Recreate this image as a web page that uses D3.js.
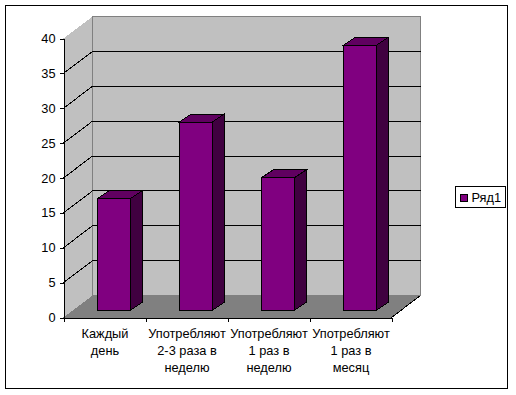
<!DOCTYPE html>
<html>
<head>
<meta charset="utf-8">
<script src="https://cdn.jsdelivr.net/npm/d3@7"></script>
<style>
  html, body { margin: 0; padding: 0; background: #fff; }
  svg { display: block; }
  text { font-family: "Liberation Sans", Arial, sans-serif; font-size: 12.8px; fill: #000; }
  rect, polygon, polyline, line, path { shape-rendering: crispEdges; }
</style>
</head>
<body>
<svg id="chart"></svg>
<script>
const categories = ['Каждый день', 'Употребляют 2-3 раза в неделю', 'Употребляют 1 раз в неделю', 'Употребляют 1 раз в месяц'];
const categoryLines = [['Каждый', 'день'], ['Употребляют', '2-3 раза в', 'неделю'], ['Употребляют', '1 раз в', 'неделю'], ['Употребляют', '1 раз в', 'месяц']];
const values = [16, 27, 19, 38];
const yTicks = [0, 5, 10, 15, 20, 25, 30, 35, 40];
const seriesName = 'Ряд1';

const svg = d3.select('#chart').attr('width', 516).attr('height', 395);

// outer chart frame
svg.append('rect').attr('x', 5.5).attr('y', 5.5).attr('width', 502).attr('height', 383)
  .attr('fill', '#fff').attr('stroke', '#000');

const x = d3.scaleBand().domain(categories).range([63.5, 391.5]);
const y = d3.scaleLinear().domain([0, 40]).range([317.5, 38.5]);

// depth of the 3d box, and how far back the bars stand in it
const depthX = 29, depthY = 22;
const barOffX = 9, barOffY = 7;
const barW = 33, barDX = 12, barDY = 8;

const poly = (pts, fill, stroke) => svg.append('polygon')
  .attr('points', pts.map(p => p.join(',')).join(' '))
  .attr('fill', fill).attr('stroke', stroke || 'none');

const x0 = x.range()[0], x1 = x.range()[1];
const y0 = y(0), yTop = y(40);

// walls + floor
poly([[x0, y0], [x0, yTop], [x0 + depthX, yTop - depthY], [x0 + depthX, y0 - depthY]], '#c0c0c0');
poly([[x0 + depthX, yTop - depthY], [x1 + depthX, yTop - depthY], [x1 + depthX, y0 - depthY], [x0 + depthX, y0 - depthY]], '#c0c0c0', '#808080');
poly([[x0, y0], [x0 + depthX, y0 - depthY], [x1 + depthX, y0 - depthY], [x1, y0]], '#808080');

// gridlines go up the side wall then across the back
svg.append('g').selectAll('polyline').data(yTicks.slice(1, -1)).enter().append('polyline')
  .attr('points', d => `${x0},${y(d)} ${x0 + depthX},${y(d) - depthY} ${x1 + depthX},${y(d) - depthY}`)
  .attr('fill', 'none').attr('stroke', '#000');

// black edge along the front of the floor, right side
svg.append('line').attr('x1', x1).attr('y1', y0).attr('x2', x1 + depthX).attr('y2', y0 - depthY)
  .attr('stroke', '#000');

// bars
categories.forEach((c, i) => {
  const left = x(c) + x.bandwidth() / 2 + barOffX - barW / 2;
  const right = left + barW;
  const bottom = y0 - barOffY;
  const top = y(values[i]) - barOffY;
  poly([[right, top], [right + barDX, top - barDY], [right + barDX, bottom - barDY], [right, bottom]], '#400040', '#000');
  poly([[left, top], [left + barDX, top - barDY], [right + barDX, top - barDY], [right, top]], '#600060', '#000');
  poly([[left, top], [right, top], [right, bottom], [left, bottom]], '#800080', '#000');
});

// axes
const yAxis = d3.axisLeft(y).tickValues(yTicks).tickSize(4).tickSizeOuter(0);
const yG = svg.append('g').attr('transform', `translate(${x0},0)`).call(yAxis);
yG.selectAll('.domain').attr('stroke', '#000');
yG.selectAll('text').attr('x', -8);
yG.attr('font-family', null).attr('font-size', null);

const xTickScale = d3.scaleLinear().domain([0, 4]).range([x0, x1]);
const xAxis = d3.axisBottom(xTickScale).ticks(4).tickSize(4).tickSizeOuter(0).tickFormat('');
const xG = svg.append('g').attr('transform', `translate(0,${y0})`).call(xAxis);
xG.attr('font-family', null).attr('font-size', null);

const labels = svg.append('g').selectAll('text').data(categories).enter().append('text')
  .attr('text-anchor', 'middle')
  .attr('x', d => x(d) + x.bandwidth() / 2 + 0.5)
  .attr('y', 338);
labels.each(function (d, i) {
  d3.select(this).selectAll('tspan').data(categoryLines[i]).enter().append('tspan')
    .attr('x', x(d) + x.bandwidth() / 2 + 0.5)
    .attr('dy', (l, j) => j === 0 ? 0 : 17)
    .text(l => l);
});

// legend
const legend = svg.append('g');
legend.append('rect').attr('x', 455.5).attr('y', 186.5).attr('width', 50).attr('height', 21)
  .attr('fill', '#fff').attr('stroke', '#000');
legend.append('rect').attr('x', 460.5).attr('y', 194.5).attr('width', 7).attr('height', 7)
  .attr('fill', '#800080').attr('stroke', '#000');
legend.append('text').attr('x', 471.5).attr('y', 202).text(seriesName);
</script>
</body>
</html>
